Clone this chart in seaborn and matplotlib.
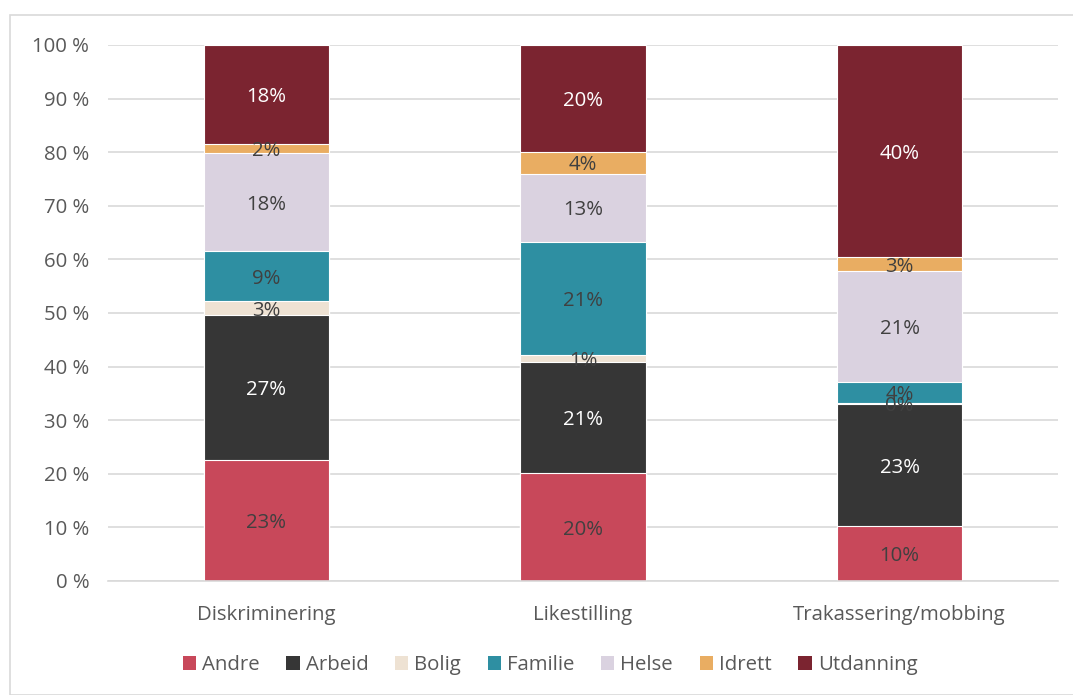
import matplotlib
matplotlib.use("Agg")
import matplotlib.pyplot as plt
from matplotlib.patches import Rectangle, Patch
import seaborn as sns
import pandas as pd
import numpy as np

categories = ["Diskriminering", "Likestilling", "Trakassering/mobbing"]
series = ["Andre", "Arbeid", "Bolig", "Familie", "Helse", "Idrett", "Utdanning"]
andre = [22.6, 20.1, 10.2]
arbeid = [27.0, 20.7, 22.8]
bolig = [2.6, 1.3, 0.2]
familie = [9.3, 21.2, 4.0]
helse = [18.4, 12.7, 20.6]
idrett = [1.7, 4.1, 2.6]
utdanning = [18.4, 19.9, 39.6]
yticks = list(range(0, 101, 10))
ytick_labels = [f"{v} %" for v in yticks]

colors = ["#C8485A", "#363636", "#EEE2D3", "#2E8FA2", "#DAD2E0", "#E9AD62", "#7B2430"]
label_colors = ["#404040", "#FFFFFF", "#404040", "#404040", "#404040", "#404040", "#FFFFFF"]

values = [andre, arbeid, bolig, familie, helse, idrett, utdanning]
df = pd.DataFrame({s: v for s, v in zip(series, values)}, index=categories)
cum = df.cumsum(axis=1)

sns.set_theme(style="white")
plt.rcParams["font.family"] = ["Open Sans", "DejaVu Sans"]

FS = 14.7

fig = plt.figure(figsize=(10.73, 6.95), dpi=100)
ax = fig.add_axes([108 / 1073, 1 - 581 / 695, (1058 - 108) / 1073, (581 - 45) / 695])

# draw cumulative bars from top series down so each overlays the previous
for i in range(len(series) - 1, -1, -1):
    s = series[i]
    d = pd.DataFrame({"cat": categories, "val": cum[s].values})
    sns.barplot(data=d, x="cat", y="val", order=categories, color=colors[i],
                width=0.395, edgecolor="white", linewidth=0.8, saturation=1,
                ax=ax, zorder=2)

# labels
for i, s in enumerate(series):
    for j, c in enumerate(categories):
        v = df.loc[c, s]
        center = cum.loc[c, s] - v / 2
        ax.text(j, center, f"{round(v):.0f}%", ha="center", va="center_baseline",
                fontsize=FS, color=label_colors[i], zorder=5)

ax.set_ylim(0, 100)
ax.set_xlim(-0.5, 2.5)
ax.set_yticks(yticks)
ax.set_yticklabels(ytick_labels)
ax.yaxis.grid(True, color="#D9D9D9", linewidth=1.2, zorder=0)
ax.set_axisbelow(True)
for sp in ["top", "right", "left"]:
    ax.spines[sp].set_visible(False)
ax.spines["bottom"].set_color("#D9D9D9")
ax.spines["bottom"].set_linewidth(1.2)
ax.tick_params(axis="both", length=0, labelsize=FS, colors="#595959")
ax.tick_params(axis="x", pad=17)
ax.tick_params(axis="y", pad=13.5)
ax.set_xlabel("")
ax.set_ylabel("")

handles = [Patch(facecolor=colors[i], edgecolor="none", label=s) for i, s in enumerate(series)]
leg = fig.legend(handles=handles, loc="center", bbox_to_anchor=(550 / 1073, 1 - 665 / 695),
                 ncol=7, frameon=False, fontsize=FS, handlelength=0.65, handleheight=0.65,
                 handletextpad=0.3, columnspacing=1.3)
for t in leg.get_texts():
    t.set_color("#595959")

fig.patches.append(Rectangle((10 / 1073, 0), 1.2, 1 - 15 / 695, transform=fig.transFigure,
                             fill=False, edgecolor="#D9D9D9", linewidth=1.2))

fig.savefig("out.png", dpi=100)
